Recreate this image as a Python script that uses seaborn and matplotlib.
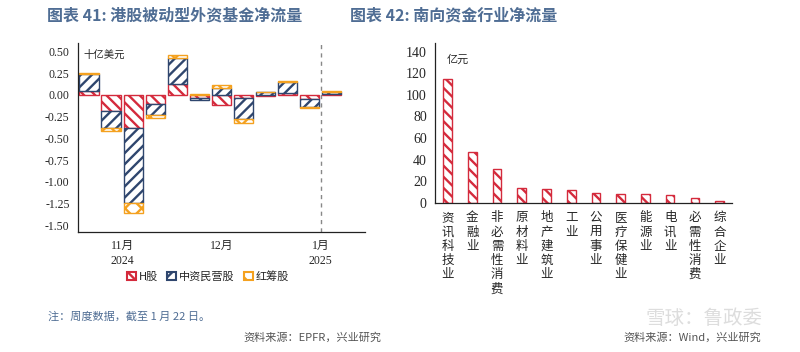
import numpy as np
import matplotlib
matplotlib.use("Agg")
import matplotlib.pyplot as plt
from matplotlib.patches import Patch
import seaborn as sns
import pandas as pd

# Left chart data: weekly passive foreign fund flows (billion USD)
weeks = list(range(12))
h_shares = [0.05, -0.19, -0.38, -0.10, 0.13, -0.04, -0.12, -0.03, -0.01, 0.02, -0.05, 0.01]
private_shares = [0.19, -0.19, -0.87, -0.13, 0.30, -0.02, 0.08, -0.25, 0.03, 0.13, -0.09, 0.03]
red_chips = [0.01, -0.03, -0.11, -0.03, 0.03, 0.01, 0.04, -0.04, 0.01, 0.01, -0.01, 0.01]
series_names = ["H股", "中资民营股", "红筹股"]
month_labels = ["11月\n2024", "12月", "1月\n2025"]
month_centers = [1.5, 6, 10.5]
month_edges = [-0.5, 3.5, 8.5, 12.5]

# Right chart data: southbound flows by industry (100m CNY)
industries = ["资讯科技业", "金融业", "非必需性消费", "原材料业", "地产建筑业", "工业",
              "公用事业", "医疗保健业", "能源业", "电讯业", "必需性消费", "综合企业"]
industry_flows = [115, 47, 31, 13.5, 12.5, 12, 9, 8.5, 8.5, 7.5, 5, 1.5]

RED = "#d42a3c"
NAVY = "#2f466e"
ORANGE = "#f4a11f"
TITLE_C = "#4f6d94"

sns.set_style("white")
plt.rcParams['font.family'] = ['Liberation Serif', 'Noto Sans CJK SC', 'DejaVu Sans']
plt.rcParams['hatch.linewidth'] = 1.7
CJK = ['Noto Sans CJK SC', 'DejaVu Sans']

fig = plt.figure(figsize=(8, 3.52), dpi=100)

# ---- left: stacked bars ----
ax1 = fig.add_axes([0.0975, 0.341, 0.3585, 0.537])
pos_base = np.zeros(len(weeks))
neg_base = np.zeros(len(weeks))
styles = [(RED, "\\\\\\"), (NAVY, "///"), (ORANGE, "xx")]
for vals, (col, hat) in zip([h_shares, private_shares, red_chips], styles):
    vals = np.array(vals)
    bottom = np.where(vals >= 0, pos_base, neg_base)
    ax1.bar(weeks, vals, bottom=bottom, width=0.87, facecolor="white",
            edgecolor=col, hatch=hat, linewidth=1.0)
    pos_base += np.where(vals >= 0, vals, 0)
    neg_base += np.where(vals < 0, vals, 0)

ax1.set_xlim(-0.5, 12.5)
ax1.set_ylim(-1.58, 0.6)
yt = np.arange(-1.5, 0.51, 0.25)
ax1.set_yticks(yt)
ax1.set_yticklabels([f"{v:.2f}" for v in yt], fontsize=8.5)
ax1.set_xticks(month_edges)
ax1.set_xticklabels([])
ax1.set_xticks(month_centers, minor=True)
ax1.set_xticklabels(month_labels, minor=True, fontsize=8.5, linespacing=1.25)
ax1.tick_params(axis='x', which='minor', length=0, pad=6)
ax1.tick_params(axis='x', which='major', direction='out', length=4, width=0.8)
ax1.tick_params(axis='y', direction='out', length=4, width=0.8, pad=2)
ax1.axvline(10.5, color="#888888", linestyle=(0, (3, 3)), linewidth=1)
for s in ["top", "right"]:
    ax1.spines[s].set_visible(False)
for s in ["left", "bottom"]:
    ax1.spines[s].set_color("#222222")
    ax1.spines[s].set_linewidth(0.9)
ax1.text(0.02, 0.965, "十亿美元", transform=ax1.transAxes, fontsize=7.5,
         family=CJK, va="top", ha="left")

handles = [Patch(facecolor="white", edgecolor=c, hatch=h, linewidth=1.5) for c, h in styles]
fig.legend(handles, series_names, loc="center", bbox_to_anchor=(0.26, 0.215), ncol=3,
           frameon=False, prop={'family': CJK, 'size': 8}, handlelength=0.8,
           handleheight=0.8, handletextpad=0.3, columnspacing=0.8)

# ---- right: industry bars ----
ax2 = fig.add_axes([0.544, 0.4233, 0.371, 0.4547])
df = pd.DataFrame({"industry": industries, "flow": industry_flows})
sns.barplot(data=df, x="industry", y="flow", ax=ax2, width=0.35, color="white",
            edgecolor=RED, hatch="\\\\\\", linewidth=1.0, errorbar=None)
ax2.set_xlim(-0.5, len(industries) - 0.5)
ax2.set_ylim(0, 148)
ax2.set_yticks(range(0, 141, 20))
ax2.set_yticklabels([str(v) for v in range(0, 141, 20)], fontsize=10)
ax2.set_xlabel("")
ax2.set_ylabel("")
ax2.set_xticks(np.arange(-0.5, len(industries)), minor=False)
ax2.set_xticklabels([])
ax2.set_xticks(range(len(industries)), minor=True)
ax2.set_xticklabels(["\n".join(n) for n in industries], minor=True, family=CJK,
                    fontsize=9, va="top", linespacing=1.12)
ax2.tick_params(axis='x', which='minor', length=0, pad=6)
ax2.tick_params(axis='x', which='major', direction='out', length=4, width=0.8)
ax2.tick_params(axis='y', direction='out', length=4, width=0.8, pad=2)
for s in ["top", "right"]:
    ax2.spines[s].set_visible(False)
for s in ["left", "bottom"]:
    ax2.spines[s].set_color("#222222")
    ax2.spines[s].set_linewidth(0.9)
ax2.text(0.04, 0.93, "亿元", transform=ax2.transAxes, fontsize=8,
         family=CJK, va="top", ha="left")

# ---- titles and notes ----
fig.text(0.218, 0.955, "图表 41: 港股被动型外资基金净流量", ha="center", va="center",
         fontsize=11.5, color=TITLE_C, family=CJK, weight="bold")
fig.text(0.567, 0.955, "图表 42: 南向资金行业净流量", ha="center", va="center",
         fontsize=11.5, color=TITLE_C, family=CJK, weight="bold")
fig.text(0.06, 0.1, "注：周度数据，截至 1 月 22 日。", ha="left", va="center",
         fontsize=8, color=TITLE_C, family=CJK)
fig.text(0.39, 0.04, "资料来源：EPFR，兴业研究", ha="center", va="center",
         fontsize=8, color="#555555", family=CJK)
fig.text(0.865, 0.04, "资料来源：Wind，兴业研究", ha="center", va="center",
         fontsize=8, color="#555555", family=CJK)
fig.text(0.88, 0.095, "雪球：鲁政委", ha="center", va="center",
         fontsize=14, color="#dddddd", family=CJK)

fig.savefig("out.png", dpi=100)
